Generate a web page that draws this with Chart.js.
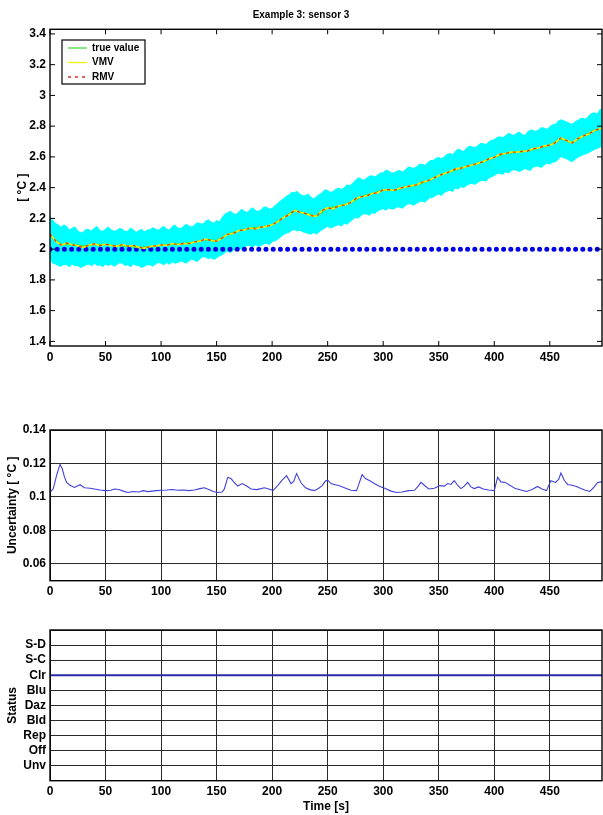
<!DOCTYPE html>
<html><head><meta charset="utf-8">
<script src="https://cdn.jsdelivr.net/npm/chart.js@4.4.0/dist/chart.umd.min.js"></script>
<style>
html,body{margin:0;padding:0;background:#fff;width:603px;height:815px;overflow:hidden;}
canvas{position:absolute;left:0;}
#c1{top:0;} #c2{top:415px;} #c3{top:615px;}
</style></head><body>
<canvas id="c1" width="603" height="370"></canvas>
<canvas id="c2" width="603" height="190"></canvas>
<canvas id="c3" width="603" height="200"></canvas>
<script>
// ---------- DATA ----------
const sampleTime = [0,5,10,15,20,25,30,35,40,45,50,55,60,65,70,75,80,85,90,95,100,105,110,115,120,125,130,135,140,145,150,155,160,165,170,175,180,185,190,195,200,205,210,215,220,225,230,235,240,245,250,255,260,265,270,275,280,285,290,295,300,305,310,315,320,325,330,335,340,345,350,355,360,365,370,375,380,385,390,395,400,405,410,415,420,425,430,435,440,445,450,455,460,465,470,475,480,485,490,495,497];
const vmvValues = [2.100,2.052,2.026,2.040,2.028,2.022,2.010,2.026,2.034,2.022,2.032,2.024,2.018,2.030,2.019,2.024,2.012,2.005,2.017,2.021,2.028,2.024,2.036,2.029,2.037,2.035,2.047,2.052,2.066,2.056,2.052,2.072,2.097,2.102,2.121,2.124,2.137,2.131,2.143,2.148,2.158,2.178,2.205,2.222,2.252,2.240,2.232,2.218,2.214,2.252,2.268,2.262,2.281,2.287,2.300,2.328,2.341,2.346,2.362,2.366,2.385,2.388,2.382,2.397,2.404,2.412,2.418,2.437,2.443,2.462,2.478,2.492,2.503,2.522,2.527,2.538,2.548,2.558,2.568,2.587,2.598,2.617,2.622,2.632,2.630,2.636,2.638,2.654,2.658,2.672,2.676,2.692,2.724,2.708,2.690,2.718,2.736,2.748,2.771,2.783,2.788];
const rmvValues = vmvValues;
const bandTime = [0,2.5,5,7.5,10,12.5,15,17.5,20,22.5,25,27.5,30,32.5,35,37.5,40,42.5,45,47.5,50,52.5,55,57.5,60,62.5,65,67.5,70,72.5,75,77.5,80,82.5,85,87.5,90,92.5,95,97.5,100,102.5,105,107.5,110,112.5,115,117.5,120,122.5,125,127.5,130,132.5,135,137.5,140,142.5,145,147.5,150,152.5,155,157.5,160,162.5,165,167.5,170,172.5,175,177.5,180,182.5,185,187.5,190,192.5,195,197.5,200,202.5,205,207.5,210,212.5,215,217.5,220,222.5,225,227.5,230,232.5,235,237.5,240,242.5,245,247.5,250,252.5,255,257.5,260,262.5,265,267.5,270,272.5,275,277.5,280,282.5,285,287.5,290,292.5,295,297.5,300,302.5,305,307.5,310,312.5,315,317.5,320,322.5,325,327.5,330,332.5,335,337.5,340,342.5,345,347.5,350,352.5,355,357.5,360,362.5,365,367.5,370,372.5,375,377.5,380,382.5,385,387.5,390,392.5,395,397.5,400,402.5,405,407.5,410,412.5,415,417.5,420,422.5,425,427.5,430,432.5,435,437.5,440,442.5,445,447.5,450,452.5,455,457.5,460,462.5,465,467.5,470,472.5,475,477.5,480,482.5,485,487.5,490,492.5,495,497];
const upperValues = [2.215,2.19,2.17,2.16,2.145,2.162,2.15,2.128,2.14,2.148,2.125,2.108,2.115,2.132,2.13,2.122,2.14,2.15,2.125,2.118,2.135,2.148,2.13,2.12,2.125,2.138,2.135,2.118,2.12,2.14,2.13,2.112,2.125,2.132,2.115,2.128,2.13,2.142,2.135,2.125,2.14,2.152,2.135,2.128,2.15,2.16,2.14,2.136,2.15,2.165,2.155,2.145,2.16,2.175,2.17,2.165,2.185,2.195,2.18,2.172,2.19,2.182,2.21,2.232,2.24,2.25,2.235,2.228,2.245,2.262,2.25,2.242,2.26,2.272,2.255,2.248,2.26,2.278,2.275,2.265,2.27,2.285,2.3,2.318,2.33,2.345,2.355,2.372,2.37,2.38,2.36,2.352,2.35,2.362,2.34,2.33,2.345,2.358,2.37,2.39,2.385,2.372,2.38,2.395,2.4,2.392,2.405,2.422,2.415,2.432,2.45,2.468,2.46,2.452,2.465,2.478,2.48,2.472,2.485,2.498,2.5,2.518,2.51,2.498,2.5,2.512,2.515,2.505,2.52,2.538,2.535,2.528,2.54,2.556,2.555,2.548,2.565,2.58,2.58,2.595,2.6,2.592,2.605,2.62,2.625,2.615,2.64,2.655,2.645,2.638,2.66,2.672,2.67,2.662,2.675,2.69,2.69,2.682,2.7,2.712,2.715,2.73,2.735,2.728,2.74,2.755,2.75,2.742,2.755,2.765,2.75,2.742,2.765,2.778,2.775,2.768,2.78,2.795,2.79,2.782,2.8,2.812,2.815,2.835,2.845,2.838,2.83,2.822,2.815,2.83,2.84,2.852,2.855,2.848,2.87,2.885,2.89,2.882,2.91,2.915];
const lowerValues = [1.93,1.905,1.9,1.89,1.885,1.898,1.895,1.882,1.9,1.888,1.89,1.878,1.885,1.895,1.9,1.888,1.905,1.89,1.895,1.882,1.9,1.89,1.9,1.885,1.895,1.908,1.905,1.89,1.895,1.882,1.9,1.892,1.89,1.878,1.885,1.895,1.895,1.885,1.9,1.91,1.905,1.895,1.91,1.898,1.915,1.905,1.91,1.92,1.915,1.905,1.92,1.932,1.925,1.915,1.935,1.948,1.945,1.935,1.94,1.93,1.94,1.952,1.96,1.975,1.985,1.975,1.99,2.0,2.005,1.995,2.01,2.022,2.02,2.01,2.025,2.015,2.02,2.032,2.035,2.025,2.045,2.052,2.06,2.075,2.09,2.1,2.105,2.118,2.125,2.115,2.12,2.11,2.105,2.098,2.095,2.105,2.095,2.11,2.125,2.135,2.145,2.135,2.14,2.15,2.155,2.148,2.165,2.158,2.175,2.19,2.205,2.198,2.215,2.228,2.225,2.218,2.235,2.228,2.245,2.255,2.26,2.252,2.265,2.258,2.26,2.272,2.27,2.262,2.28,2.292,2.29,2.282,2.295,2.305,2.31,2.302,2.32,2.332,2.335,2.348,2.355,2.345,2.365,2.375,2.38,2.372,2.395,2.388,2.405,2.398,2.41,2.42,2.425,2.418,2.43,2.442,2.445,2.438,2.46,2.468,2.475,2.488,2.49,2.482,2.5,2.492,2.505,2.515,2.51,2.502,2.51,2.522,2.515,2.508,2.53,2.538,2.535,2.528,2.545,2.555,2.55,2.562,2.565,2.58,2.6,2.592,2.585,2.575,2.565,2.58,2.595,2.602,2.61,2.618,2.625,2.635,2.645,2.652,2.66,2.668];
const trueTime = [0,10,20,30,40,50,60,70,80,90,100,110,120,130,140,150,160,170,180,190,200,210,220,230,240,250,260,270,280,290,300,310,320,330,340,350,360,370,380,390,400,410,420,430,440,450,460,470,480,490,497];
const trueValues = [2.09,2.03,2.03,2.02,2.03,2.03,2.02,2.02,2.01,2.015,2.025,2.032,2.036,2.046,2.062,2.055,2.095,2.12,2.135,2.143,2.158,2.205,2.25,2.232,2.215,2.268,2.281,2.3,2.34,2.362,2.385,2.383,2.404,2.418,2.443,2.478,2.503,2.527,2.548,2.568,2.598,2.622,2.631,2.638,2.658,2.676,2.72,2.692,2.736,2.77,2.788];
const refTime = [0,497];
const refValues = [2,2];
const uncTime = [0,3,6,9,11,13,15,18,22,27,31,36,40,45,50,55,58,62,66,70,75,80,84,88,92,96,100,105,110,115,120,125,130,135,139,143,147,151,155,157,160,163,166,169,173,177,181,186,190,193,197,201,205,209,213,217,219.5,222,226,230,234,238,242,245,248,250,253,256,260,265,271,276,278,281,284,288,292,297,302,307,312,317,323,328,331,334,337,341,346,351,355,358,361,364,367,370,373,376,379,382,386,390,395,400,403,406,410,414,419,424,429,434,439,443,447,451,455,458,460,463,466,470,474,478,482,486,490,493,497];
const uncValues = [0.1027,0.105,0.113,0.1195,0.117,0.112,0.1087,0.107,0.1057,0.1073,0.1055,0.1052,0.1048,0.1042,0.1038,0.104,0.1048,0.1045,0.1035,0.1027,0.1033,0.103,0.1038,0.1032,0.1035,0.1038,0.104,0.1042,0.1045,0.104,0.1042,0.1038,0.1042,0.105,0.1055,0.1045,0.1033,0.1027,0.103,0.1048,0.1117,0.111,0.1085,0.1065,0.108,0.1065,0.1048,0.1044,0.105,0.1055,0.1048,0.104,0.1068,0.11,0.1127,0.108,0.1095,0.114,0.1085,0.1055,0.1044,0.1038,0.1052,0.1068,0.1095,0.11,0.108,0.1075,0.1068,0.1055,0.104,0.1038,0.1075,0.1133,0.111,0.1097,0.108,0.1063,0.105,0.1035,0.1027,0.103,0.1038,0.104,0.106,0.1087,0.107,0.1048,0.1052,0.1068,0.1065,0.108,0.1075,0.1097,0.107,0.105,0.1065,0.1087,0.106,0.105,0.106,0.1048,0.1042,0.1038,0.1117,0.109,0.1087,0.107,0.105,0.1042,0.1033,0.1045,0.1063,0.1048,0.1038,0.1097,0.1087,0.1105,0.1143,0.11,0.1075,0.107,0.1063,0.105,0.104,0.1033,0.106,0.1087,0.109];
const statusLabels = ['Unv','Off','Rep','Bld','Daz','Blu','Clr','S-C','S-D'];
const statusTime = [0,497];
const statusValues = ['Clr','Clr'];
const chartTitle = 'Example 3: sensor 3';

// ---------- HELPERS ----------
const FONT = "'Liberation Sans', Arial, Helvetica, sans-serif";
Chart.defaults.font.family = FONT;
Chart.defaults.color = '#000';
function pts(xs, ys){ return xs.map((x,i)=>({x:x, y:ys[i]})); }
const tickFont = {size:12, weight:'bold'};
const titleFont = {size:12, weight:'bold'};
function fmt(v){ return String(Number(v.toFixed(3))); }

const framePlugin = {
  id:'frame',
  afterDatasetsDraw(chart, args, opts){
    const {ctx, chartArea:a, scales} = chart;
    ctx.save();
    ctx.strokeStyle = '#000';
    if (opts.ticks) {
      ctx.lineWidth = 1;
      const L = 5;
      ctx.beginPath();
      scales.x.ticks.forEach(t=>{
        const px = scales.x.getPixelForValue(t.value);
        ctx.moveTo(px, a.bottom); ctx.lineTo(px, a.bottom-L);
        ctx.moveTo(px, a.top); ctx.lineTo(px, a.top+L);
      });
      scales.y.ticks.forEach(t=>{
        const py = scales.y.getPixelForValue(t.value);
        ctx.moveTo(a.left, py); ctx.lineTo(a.left+L, py);
        ctx.moveTo(a.right, py); ctx.lineTo(a.right-L, py);
      });
      ctx.stroke();
    }
    ctx.lineWidth = 1.4;
    ctx.strokeRect(a.left, a.top, a.right-a.left, a.bottom-a.top);
    ctx.restore();
  }
};

const boxLegend = {
  id:'boxLegend',
  afterDraw(chart, args, o){
    if (!o || !o.w) return;
    const ctx = chart.ctx;
    ctx.save();
    ctx.fillStyle = '#fff'; ctx.fillRect(o.x, o.y, o.w, o.h);
    ctx.strokeStyle = '#000'; ctx.lineWidth = 1.2; ctx.strokeRect(o.x, o.y, o.w, o.h);
    ctx.font = 'bold 10px ' + FONT; ctx.textBaseline = 'middle'; ctx.textAlign = 'left';
    const items = chart.data.datasets.filter(d=>d.inLegend);
    items.forEach((d,i)=>{
      const y = o.y + 8 + i*14.5;
      ctx.strokeStyle = d.borderColor; ctx.lineWidth = 1.3;
      ctx.setLineDash(d.borderDash || []);
      ctx.beginPath(); ctx.moveTo(o.x+6, y); ctx.lineTo(o.x+25, y); ctx.stroke();
      ctx.setLineDash([]);
      ctx.fillStyle = '#000';
      ctx.fillText(d.label, o.x+30, y);
    });
    ctx.restore();
  }
};

function xScale(height, withTitle, grid){
  return {
    type:'linear', min:0, max:497,
    ticks:{stepSize:50, includeBounds:false, padding:4, font:tickFont, maxRotation:0, autoSkip:false, color:'#000'},
    grid:{display:grid, drawTicks:false, color:'#2a2a2a', lineWidth:1},
    border:{display:false},
    title: withTitle ? {display:true, text:'Time [s]', font:titleFont, color:'#000', padding:{top:0,bottom:1}} : {display:false},
    afterFit(s){ s.height = height; }
  };
}

// ---------- CHART 1 ----------
new Chart(document.getElementById('c1'), {
  type:'line',
  data:{datasets:[
    {label:'upper', data:pts(bandTime, upperValues), borderColor:'rgba(0,0,0,0)', borderWidth:0, pointRadius:0, backgroundColor:'#00ffff', fill:'+1', order:5},
    {label:'lower', data:pts(bandTime, lowerValues), borderColor:'rgba(0,0,0,0)', borderWidth:0, pointRadius:0, fill:false, order:5},
    {label:'reference', data:pts(refTime, refValues), borderColor:'#0000e6', borderWidth:5, borderDash:[0,7.2], borderCapStyle:'round', pointRadius:0, fill:false, order:4},
    {label:'true value', inLegend:true, data:pts(trueTime, trueValues), borderColor:'#44dd44', borderWidth:1.6, pointRadius:0, fill:false, order:3},
    {label:'VMV', inLegend:true, data:pts(sampleTime, vmvValues), borderColor:'#f0f000', borderWidth:1.6, pointRadius:0, fill:false, order:2},
    {label:'RMV', inLegend:true, data:pts(sampleTime, rmvValues), borderColor:'#d83020', borderWidth:1.2, borderDash:[3,4], pointRadius:0, fill:false, order:1}
  ]},
  options:{
    responsive:false, animation:false,
    layout:{padding:{left:0, right:1, top:0, bottom:0}},
    plugins:{
      legend:{display:false}, tooltip:{enabled:false},
      title:{display:true, text:chartTitle, font:{size:10, weight:'bold'}, color:'#000', padding:{top:9.5, bottom:7.8}},
      frame:{ticks:true},
      boxLegend:{x:62, y:40, w:83, h:44}
    },
    scales:{
      x: xScale(24, false, false),
      y:{type:'linear', min:1.37, max:3.43,
        ticks:{stepSize:0.2, includeBounds:false, padding:4, font:tickFont, color:'#000', callback:v=>fmt(v)},
        grid:{display:false, drawTicks:false}, border:{display:false},
        title:{display:true, text:'[ °C ]', font:titleFont, color:'#000', padding:{top:15}},
        afterFit(s){ s.width = 50; }
      }
    }
  },
  plugins:[framePlugin, boxLegend]
});

// ---------- CHART 2 ----------
new Chart(document.getElementById('c2'), {
  type:'line',
  data:{datasets:[
    {label:'Uncertainty', data:pts(uncTime, uncValues), borderColor:'#4040d8', borderWidth:1.1, pointRadius:0, fill:false}
  ]},
  options:{
    responsive:false, animation:false,
    layout:{padding:{left:0, right:1, top:15, bottom:0}},
    plugins:{legend:{display:false}, tooltip:{enabled:false}, frame:{ticks:false}},
    scales:{
      x: xScale(24.3, false, true),
      y:{type:'linear', min:0.05, max:0.14,
        ticks:{stepSize:0.02, includeBounds:false, padding:4, font:tickFont, color:'#000', callback:v=>fmt(v)},
        grid:{display:true, drawTicks:false, color:'#2a2a2a', lineWidth:1}, border:{display:false},
        title:{display:true, text:'Uncertainty [ °C ]', font:titleFont, color:'#000', padding:{top:5}},
        afterFit(s){ s.width = 50; }
      }
    }
  },
  plugins:[framePlugin]
});

// ---------- CHART 3 ----------
new Chart(document.getElementById('c3'), {
  type:'line',
  data:{datasets:[
    {label:'Status', data:pts(statusTime, statusValues.map(s=>statusLabels.indexOf(s)+1)), borderColor:'#2a2aa8', borderWidth:2, pointRadius:0, fill:false}
  ]},
  options:{
    responsive:false, animation:false,
    layout:{padding:{left:0, right:1, top:15, bottom:0}},
    plugins:{legend:{display:false}, tooltip:{enabled:false}, frame:{ticks:false}},
    scales:{
      x: xScale(34.3, true, true),
      y:{type:'linear', min:0, max:10,
        ticks:{stepSize:1, padding:4, font:tickFont, color:'#000', autoSkip:false, callback:v=>statusLabels[v-1] || ''},
        grid:{display:true, drawTicks:false, color:'#2a2a2a', lineWidth:1}, border:{display:false},
        title:{display:true, text:'Status', font:titleFont, color:'#000', padding:{top:5}},
        afterFit(s){ s.width = 50; }
      }
    }
  },
  plugins:[framePlugin]
});
</script>
</body></html>
